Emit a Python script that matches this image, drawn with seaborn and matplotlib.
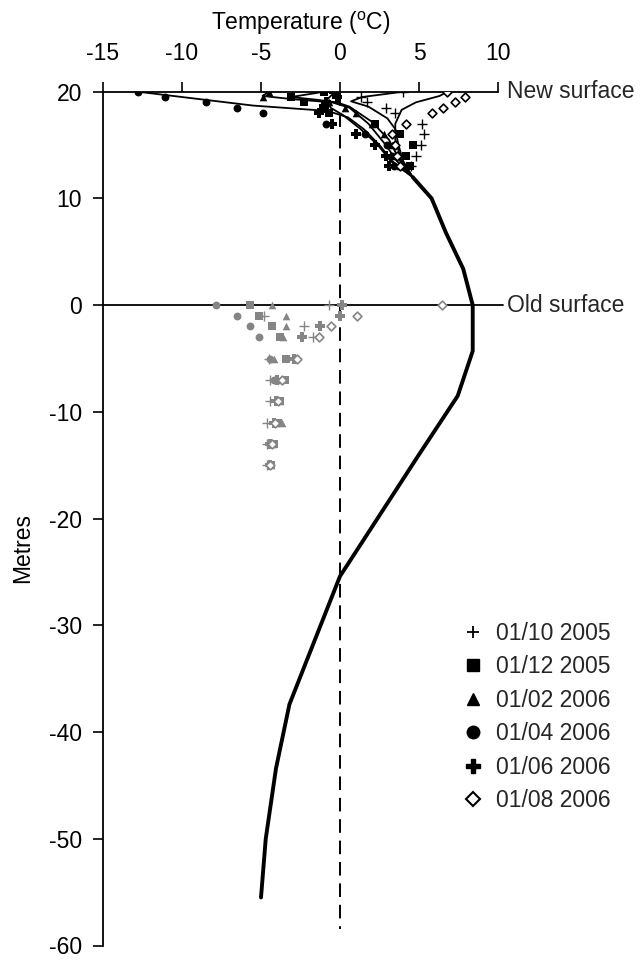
import matplotlib
matplotlib.use("Agg")
import matplotlib.pyplot as plt
import seaborn as sns
import pandas as pd
from matplotlib.lines import Line2D

sns.set_theme(style="white")
plt.rcParams["font.family"] = ["Liberation Sans", "DejaVu Sans"]
plt.rcParams["mathtext.fontset"] = "custom"
plt.rcParams["mathtext.rm"] = "Liberation Sans"
plt.rcParams["axes.unicode_minus"] = False

FS = 16.5

dates = ["01/10 2005", "01/12 2005", "01/02 2006", "01/04 2006", "01/06 2006", "01/08 2006"]

# thermistor depths (m relative to the old surface)
new_depths = [20, 19.5, 19, 18.5, 18, 17, 16, 15, 14, 13]
old_depths = [0, -1, -2, -3, -5, -7, -9, -11, -13, -15]

# measured temperatures in the new snow/firn layer
new_oct05 = [4.0, 1.3, 1.7, 2.9, 3.5, 5.2, 5.3, 5.1, 4.8, 4.5]
new_dec05 = [-1.0, -3.1, -2.3, -1.1, -0.7, 2.2, 3.8, 4.6, 4.2, 4.4]
new_feb06 = [-4.5, -4.9, -0.7, 0.3, 1.0, 2.0, 2.8, 3.3, 3.6, 3.8]
new_apr06 = [-12.8, -11.1, -8.5, -6.5, -4.9, -0.9, 1.6, 3.0, 3.3, 3.4]
new_jun06 = [-0.4, -0.2, -0.9, -1.0, -1.3, -0.5, 1.0, 2.2, 2.9, 3.1]
new_aug06 = [6.8, 7.9, 7.3, 6.5, 5.8, 4.2, 3.3, 3.5, 3.6, 3.8]

# measured temperatures below the old surface
old_oct05 = [-0.7, -4.8, -2.3, -1.7, -4.5, -4.4, -4.4, -4.6, -4.6, -4.6]
old_dec05 = [-5.7, -5.1, -4.3, -3.8, -3.4, -3.5, -3.8, -3.9, -4.2, -4.35]
old_feb06 = [-4.3, -3.4, -3.4, -3.6, -4.2, -3.8, -3.8, -3.7, -4.25, -4.35]
old_apr06 = [-7.85, -6.5, -5.7, -5.15, -4.4, -4.2, -3.95, -3.9, -4.3, -4.4]
old_jun06 = [0.1, 0.0, -1.25, -2.4, -2.9, -4.0, -4.05, -4.2, -4.4, -4.45]
old_aug06 = [6.45, 1.07, -0.57, -1.35, -2.75, -3.7, -3.9, -4.1, -4.3, -4.4]

# modelled profiles in the upper layer (temperature, depth)
mod_oct05_t = [4.0, 1.4, 0.7, 1.8, 3.0, 3.5, 3.7, 4.0, 4.6]
mod_oct05_d = [20, 19.5, 19.1, 18.6, 17.5, 16.5, 15, 13.5, 12]
mod_dec05_t = [-1.0, -3.1, -1.5, -0.2, 0.6, 2.0, 3.1, 3.8, 4.6]
mod_dec05_d = [20, 19.5, 19.25, 19.0, 18.6, 17.2, 15.5, 13.5, 12]
mod_feb06_t = [-4.5, -4.9, -3.0, -0.5, 0.6, 1.8, 2.9, 3.6, 4.6]
mod_feb06_d = [20, 19.6, 19.3, 19.0, 18.5, 17, 15, 13.5, 12]
mod_apr06_t = [-12.8, -5.5, -0.8, 0.5, 1.5, 2.5, 3.3, 4.6]
mod_apr06_d = [20, 18.7, 18.2, 17.6, 16.5, 15, 13.5, 12]
mod_jun06_t = [-0.3, -0.8, -0.6, 0.2, 1.3, 2.4, 3.2, 4.6]
mod_jun06_d = [20, 19.3, 18.5, 17.8, 16.5, 15, 13.5, 12]
mod_aug06_t = [6.8, 6.3, 4.8, 3.9, 3.5, 3.5, 3.9, 4.6]
mod_aug06_d = [20, 19.6, 19.0, 18.3, 17.0, 15.5, 13.5, 12]

# deeper part shared by all modelled profiles
mod_deep_t = [4.6, 5.8, 6.7, 7.8, 8.4, 8.4, 7.45, 5.0, 0.0, -3.2, -4.05, -4.7, -5.0]
mod_deep_d = [12, 10, 6.8, 3.4, 0, -4.3, -8.5, -14, -25.4, -37.4, -43.4, -50, -55.5]

new_series = [new_oct05, new_dec05, new_feb06, new_apr06, new_jun06, new_aug06]
old_series = [old_oct05, old_dec05, old_feb06, old_apr06, old_jun06, old_aug06]
mod_series = [(mod_oct05_t, mod_oct05_d), (mod_dec05_t, mod_dec05_d),
              (mod_feb06_t, mod_feb06_d), (mod_apr06_t, mod_apr06_d),
              (mod_jun06_t, mod_jun06_d), (mod_aug06_t, mod_aug06_d)]

markers = ["+", "s", "^", "o", "P", "D"]
msizes = [55, 26, 30, 32, 42, 20]
grey = "#858585"

fig = plt.figure(figsize=(6.42, 9.6), dpi=100)
ax = fig.add_axes([103 / 642, 14.5 / 960, 395 / 642, 853.8 / 960])

# reference lines
ax.plot([0, 0], [20, -58.5], color="black", lw=1.4, linestyle=(0, (7, 4)), zorder=1)
ax.plot([-15, 10.3], [0, 0], color="black", lw=1.3, clip_on=False, zorder=1)

# modelled profiles
for t, d in mod_series:
    sns.lineplot(x=t, y=d, sort=False, estimator=None, color="black", lw=1.3, ax=ax, zorder=2)
sns.lineplot(x=mod_deep_t, y=mod_deep_d, sort=False, estimator=None, color="black",
             lw=2.8, ax=ax, zorder=2)

# measurements
for vals_new, vals_old, m, s in zip(new_series, old_series, markers, msizes):
    for vals, depths, col in ((vals_new, new_depths, "black"), (vals_old, old_depths, grey)):
        df = pd.DataFrame({"t": vals, "d": depths})
        if m == "+":
            sns.scatterplot(data=df, x="t", y="d", marker="+", color=col, s=s,
                            linewidth=1.0, ax=ax, zorder=3)
        elif m == "D":
            sns.scatterplot(data=df, x="t", y="d", marker="D", facecolor="white",
                            edgecolor=col, s=s, linewidth=1.2, ax=ax, zorder=3)
        else:
            sns.scatterplot(data=df, x="t", y="d", marker=m, color=col, s=s,
                            linewidth=0, ax=ax, zorder=3)

ax.set_xlim(-15, 10)
ax.set_ylim(-60, 20)
ax.xaxis.tick_top()
ax.xaxis.set_label_position("top")
ax.set_xticks([-15, -10, -5, 0, 5, 10])
ax.set_yticks(list(range(-60, 21, 10)))
ax.tick_params(axis="both", direction="out", length=7, width=1.2, color="black",
               labelsize=FS, labelcolor="black")
ax.tick_params(axis="x", pad=12, top=True, bottom=False)
ax.tick_params(axis="y", pad=8, left=True)
for side in ("right", "bottom"):
    ax.spines[side].set_visible(False)
for side in ("top", "left"):
    ax.spines[side].set_color("black")
    ax.spines[side].set_linewidth(1.3)

ax.set_xlabel(r"Temperature ($^{\mathregular{o}}$C)", fontsize=FS, color="black", labelpad=9)
ax.set_ylabel("Metres", fontsize=FS, color="black")
ax.yaxis.set_label_coords(-0.175, 0.465)

ax.text(10.55, 20, "New surface", fontsize=FS, va="center", ha="left", clip_on=False)
ax.text(10.55, 0, "Old surface", fontsize=FS, va="center", ha="left", clip_on=False)

handles = [
    Line2D([], [], marker="+", color="black", linestyle="none", markersize=9, markeredgewidth=1.3),
    Line2D([], [], marker="s", color="black", linestyle="none", markersize=9),
    Line2D([], [], marker="^", color="black", linestyle="none", markersize=9),
    Line2D([], [], marker="o", color="black", linestyle="none", markersize=9),
    Line2D([], [], marker="P", color="black", linestyle="none", markersize=10),
    Line2D([], [], marker="D", markerfacecolor="white", markeredgecolor="black",
           linestyle="none", markersize=7, markeredgewidth=1.5),
]
ax.legend(handles, dates, loc="upper left", bbox_to_anchor=(0.878, 0.39), frameon=False,
          fontsize=FS, handletextpad=0.4, labelspacing=0.46, handlelength=1.2,
          borderaxespad=0)

fig.savefig("out.png", dpi=100)
